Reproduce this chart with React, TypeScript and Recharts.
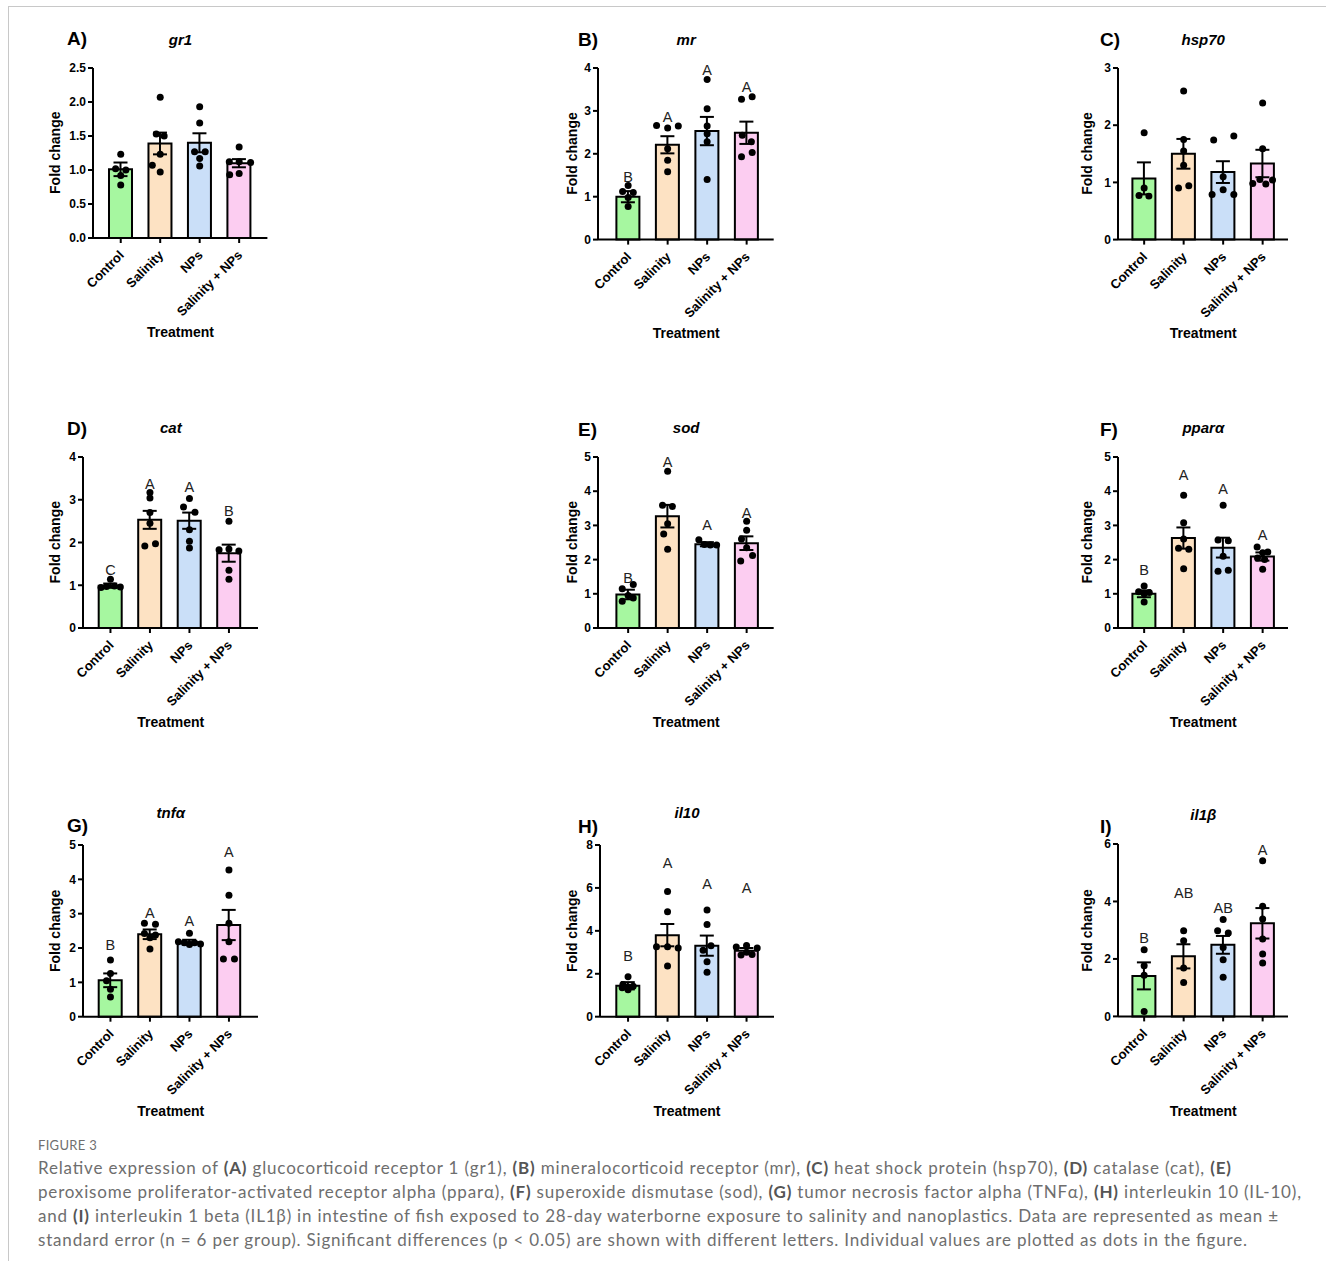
import React from 'react';
import { ComposedChart, Bar, Cell, ErrorBar, Scatter, XAxis, YAxis } from 'recharts';

const groups = ['Control', 'Salinity', 'NPs', 'Salinity + NPs'];
const groupColors = ['#a6f7a0', '#fde2c3', '#cadff8', '#fccdf1'];

// A) gr1
const gr1Mean = [1.01, 1.39, 1.40, 1.10];
const gr1Sem = [0.10, 0.16, 0.14, 0.06];
const gr1Values = [[1.23, 1.02, 1.0, 0.92, 0.78], [2.07, 1.53, 1.5, 1.23, 1.07, 0.97], [1.93, 1.69, 1.27, 1.27, 1.17, 1.06], [1.34, 1.12, 1.12, 1.11, 0.95, 0.93]];
const gr1Jitter = [[0, -0.13, 0.13, 0, 0], [0, -0.1, 0.1, 0, -0.2, 0], [0, 0, -0.13, 0.14, 0, 0], [0, -0.25, 0, 0.29, 0, -0.24]];
const gr1Letters: string[] = [];
const gr1LetterY: number[] = [];

// B) mr
const mrMean = [1.0, 2.21, 2.53, 2.49];
const mrSem = [0.13, 0.2, 0.33, 0.26];
const mrValues = [[1.26, 1.12, 1.1, 0.98, 0.77], [2.66, 2.6, 2.65, 2.12, 1.85, 1.58], [3.73, 3.05, 2.65, 2.47, 2.28, 1.4], [3.27, 3.33, 2.43, 2.28, 1.93, 2.03]];
const mrJitter = [[0, -0.14, 0.13, 0, 0], [-0.28, 0, 0.27, 0, 0, 0], [0, 0, 0, 0, 0, 0], [-0.13, 0.14, -0.11, 0.12, -0.13, 0.14]];
const mrLetters = ['B', 'A', 'A', 'A'];
const mrLetterY = [1.45, 2.85, 3.96, 3.55];

// C) hsp70
const hspMean = [1.07, 1.5, 1.18, 1.33];
const hspSem = [0.28, 0.26, 0.19, 0.24];
const hspValues = [[1.87, 0.9, 0.77, 0.76], [2.6, 1.75, 1.55, 1.3, 0.9, 0.94], [1.74, 1.81, 1.1, 0.87, 0.79, 0.79], [2.39, 1.59, 0.98, 1.05, 0.97, 1.04]];
const hspJitter = [[0, 0, -0.13, 0.12], [0, 0, 0, 0, -0.13, 0.13], [-0.24, 0.27, 0, 0, -0.28, 0.27], [0, 0, -0.25, -0.07, 0.08, 0.25]];
const hspLetters: string[] = [];
const hspLetterY: number[] = [];

// D) cat
const catMean = [0.99, 2.53, 2.51, 1.75];
const catSem = [0.05, 0.21, 0.19, 0.2];
const catValues = [[1.14, 0.95, 0.97, 0.98, 0.96], [3.17, 3.04, 2.7, 2.45, 1.92, 1.97], [3.03, 2.83, 2.71, 2.3, 2.03, 1.87], [2.5, 1.83, 1.85, 1.8, 1.35, 1.14]];
const catJitter = [[0, -0.24, -0.1, 0.1, 0.25], [0, 0, 0, 0, -0.13, 0.14], [0, -0.15, 0.14, 0, 0, 0], [0, -0.25, 0, 0.25, 0, 0]];
const catLetters = ['C', 'A', 'A', 'B'];
const catLetterY = [1.35, 3.38, 3.29, 2.73];

// E) sod
const sodMean = [0.98, 3.27, 2.45, 2.48];
const sodSem = [0.14, 0.33, 0.06, 0.2];
const sodValues = [[1.27, 1.15, 0.95, 0.88, 0.78], [4.58, 3.59, 3.55, 3.05, 2.75, 2.3], [2.58, 2.44, 2.43, 2.43], [3.12, 2.86, 2.6, 2.35, 1.96, 2.12]];
const sodJitter = [[0.13, -0.15, 0, 0.13, -0.15], [0, -0.13, 0.12, 0, -0.1, 0], [-0.21, -0.07, 0.08, 0.24], [0, 0, -0.13, 0, -0.15, 0.15]];
const sodLetters = ['B', 'A', 'A', 'A'];
const sodLetterY = [1.45, 4.85, 3.0, 3.35];

// F) pparα
const pparMean = [1.0, 2.63, 2.35, 2.09];
const pparSem = [0.1, 0.31, 0.29, 0.12];
const pparValues = [[1.23, 1.06, 1.04, 1.0, 0.76], [3.88, 3.08, 2.6, 2.33, 2.3, 1.73], [3.59, 2.57, 2.55, 2.1, 1.66, 1.69], [2.37, 2.22, 2.2, 2.05, 2.0, 1.72]];
const pparJitter = [[0, -0.14, 0.13, 0, 0], [0, 0, 0, -0.13, 0.13, 0], [0, -0.13, 0.13, 0, -0.13, 0.13], [-0.14, 0.13, 0, -0.13, 0.05, 0]];
const pparLetters = ['B', 'A', 'A', 'A'];
const pparLetterY = [1.69, 4.46, 4.06, 2.71];

// G) tnfα
const tnfMean = [1.06, 2.4, 2.17, 2.67];
const tnfSem = [0.2, 0.14, 0.07, 0.44];
const tnfValues = [[1.65, 1.26, 1.05, 0.8, 0.57], [2.72, 2.69, 2.42, 2.38, 2.3, 1.97], [2.43, 2.18, 2.15, 2.15, 2.12, 2.1], [4.27, 3.54, 2.72, 2.18, 1.68, 1.68]];
const tnfJitter = [[0, 0, -0.1, 0, 0], [-0.14, 0.14, -0.14, 0.14, 0, 0], [0, -0.28, -0.13, 0.13, 0.28, 0], [0, 0, 0, 0, -0.14, 0.14]];
const tnfLetters = ['B', 'A', 'A', 'A'];
const tnfLetterY = [2.09, 3.02, 2.79, 4.8];

// H) il10
const il10Mean = [1.44, 3.8, 3.31, 3.07];
const il10Sem = [0.17, 0.52, 0.47, 0.13];
const il10Values = [[1.86, 1.5, 1.42, 1.38, 1.35, 1.25], [5.83, 4.89, 3.26, 3.26, 3.2, 2.36], [4.97, 4.3, 3.3, 3.1, 2.56, 2.07], [3.25, 3.32, 3.2, 2.88, 2.9, 3.0]];
const il10Jitter = [[0, -0.13, 0.13, 0, -0.15, 0], [0, 0, -0.28, 0, 0.27, 0], [0, 0, 0.1, -0.1, 0, 0], [-0.26, 0, 0.27, -0.14, 0.14, 0]];
const il10Letters = ['B', 'A', 'A', 'A'];
const il10LetterY = [2.83, 7.17, 6.19, 6.0];

// I) il1β
const il1bMean = [1.41, 2.09, 2.49, 3.24];
const il1bSem = [0.47, 0.42, 0.31, 0.53];
const il1bValues = [[2.32, 1.76, 1.43, 0.17], [2.98, 2.63, 1.68, 1.18], [3.37, 2.98, 2.9, 2.4, 1.97, 1.36], [5.42, 3.83, 3.39, 2.69, 2.17, 1.86]];
const il1bJitter = [[0, 0, 0, 0], [0, 0, 0, 0], [0, -0.14, 0.13, 0, 0, 0], [0, 0, 0, 0, 0, 0]];
const il1bLetters = ['B', 'AB', 'AB', 'A'];
const il1bLetterY = [2.74, 4.31, 3.78, 5.8];

const FONT = '"Liberation Sans", Arial, Helvetica, sans-serif';

const panels = [
  { id: 'A)', gene: 'gr1', ax: 93.3, top: 67.7, bottom: 237.7, right: 267.7, pl: 8, pr: 8.5, yMax: 2.5, ticks: [0, 0.5, 1, 1.5, 2, 2.5], dec: 1, labelX: 67, labelY: 45, geneY: 45, mean: gr1Mean, sem: gr1Sem, values: gr1Values, jitter: gr1Jitter, letters: gr1Letters, letterY: gr1LetterY, ylabX: 56 },
  { id: 'B)', gene: 'mr', ax: 598.3, top: 67.7, bottom: 239.3, right: 774, pl: 10.4, pr: 7.3, yMax: 4, ticks: [0, 1, 2, 3, 4], dec: 0, labelX: 578, labelY: 46, geneY: 45, mean: mrMean, sem: mrSem, values: mrValues, jitter: mrJitter, letters: mrLetters, letterY: mrLetterY, ylabX: 573 },
  { id: 'C)', gene: 'hsp70', ax: 1118.3, top: 67.7, bottom: 239.3, right: 1288.3, pl: 6.4, pr: 5.6, yMax: 3, ticks: [0, 1, 2, 3], dec: 0, labelX: 1100, labelY: 46, geneY: 45, mean: hspMean, sem: hspSem, values: hspValues, jitter: hspJitter, letters: hspLetters, letterY: hspLetterY, ylabX: 1088 },
  { id: 'D)', gene: 'cat', ax: 83.3, top: 456.7, bottom: 627.7, right: 258.3, pl: 7.7, pr: 9.3, yMax: 4, ticks: [0, 1, 2, 3, 4], dec: 0, labelX: 67, labelY: 435, geneY: 433, mean: catMean, sem: catSem, values: catValues, jitter: catJitter, letters: catLetters, letterY: catLetterY, ylabX: 56 },
  { id: 'E)', gene: 'sod', ax: 598.3, top: 456.7, bottom: 627.7, right: 774, pl: 10.4, pr: 7.3, yMax: 5, ticks: [0, 1, 2, 3, 4, 5], dec: 0, labelX: 578, labelY: 436, geneY: 433, mean: sodMean, sem: sodSem, values: sodValues, jitter: sodJitter, letters: sodLetters, letterY: sodLetterY, ylabX: 573 },
  { id: 'F)', gene: 'pparα', ax: 1118.3, top: 456.7, bottom: 627.7, right: 1288.3, pl: 6.4, pr: 5.6, yMax: 5, ticks: [0, 1, 2, 3, 4, 5], dec: 0, labelX: 1100, labelY: 436, geneY: 433, mean: pparMean, sem: pparSem, values: pparValues, jitter: pparJitter, letters: pparLetters, letterY: pparLetterY, ylabX: 1088 },
  { id: 'G)', gene: 'tnfα', ax: 83.3, top: 845, bottom: 1016.7, right: 258.3, pl: 7.7, pr: 9.3, yMax: 5, ticks: [0, 1, 2, 3, 4, 5], dec: 0, labelX: 67, labelY: 832, geneY: 818, mean: tnfMean, sem: tnfSem, values: tnfValues, jitter: tnfJitter, letters: tnfLetters, letterY: tnfLetterY, ylabX: 56 },
  { id: 'H)', gene: 'il10', ax: 600, top: 845, bottom: 1016.7, right: 774, pl: 8.3, pr: 7.7, yMax: 8, ticks: [0, 2, 4, 6, 8], dec: 0, labelX: 578, labelY: 833, geneY: 818, mean: il10Mean, sem: il10Sem, values: il10Values, jitter: il10Jitter, letters: il10Letters, letterY: il10LetterY, ylabX: 573 },
  { id: 'I)', gene: 'il1β', ax: 1118.3, top: 844.3, bottom: 1016.7, right: 1288.3, pl: 6.4, pr: 5.6, yMax: 6, ticks: [0, 2, 4, 6], dec: 0, labelX: 1100, labelY: 833, geneY: 820, mean: il1bMean, sem: il1bSem, values: il1bValues, jitter: il1bJitter, letters: il1bLetters, letterY: il1bLetterY, ylabX: 1088 },
];

const LEFT_PAD = 60;
const TOP_PAD = 20;
const BOTTOM_PAD = 110;
const RIGHT_PAD = 10;

const RotTick = (props: any) => {
  const { x, y, payload } = props;
  const tx = x + 4;
  const ty = y + 11;
  return (
    <text x={tx} y={ty} transform={`rotate(-45, ${tx}, ${ty})`} textAnchor="end" fontSize={13} fontWeight="bold" fill="#000" fontFamily={FONT}>
      {payload.value}
    </text>
  );
};

const DotShape = (props: any) => <circle cx={props.cx} cy={props.cy} r={3.5} fill="#000" />;

const LetterShape = (props: any) => (
  <text x={props.cx} y={props.cy} textAnchor="middle" dominantBaseline="central" fontSize={14.5} fill="#222" fontFamily={FONT}>
    {props.payload ? props.payload.t : ''}
  </text>
);

function Panel({ c }: { c: any }) {
  const plotW = c.right - c.ax;
  const plotH = c.bottom - c.top;
  const width = LEFT_PAD + plotW + RIGHT_PAD;
  const height = TOP_PAD + plotH + BOTTOM_PAD;
  const barData = groups.map((g, i) => ({ group: g, mean: c.mean[i], sem: c.sem[i] }));
  const dots = c.values.flatMap((arr: number[], i: number) => arr.map((v: number, j: number) => ({ x: i + c.jitter[i][j], y: v })));
  const letters = c.letters.map((t: string, i: number) => ({ x: i, y: c.letterY[i], t }));
  return (
    <div style={{ position: 'absolute', left: c.ax - LEFT_PAD, top: c.top - TOP_PAD, fontFamily: FONT }}>
      <ComposedChart width={width} height={height} data={barData} margin={{ top: TOP_PAD, right: RIGHT_PAD, bottom: 10, left: 0 }}>
        <XAxis
          xAxisId="c"
          dataKey="group"
          type="category"
          padding={{ left: c.pl, right: c.pr }}
          height={BOTTOM_PAD - 10}
          tick={<RotTick />}
          tickSize={5}
          interval={0}
          axisLine={{ stroke: '#000', strokeWidth: 2 }}
          tickLine={{ stroke: '#000', strokeWidth: 2 }}
        />
        <XAxis xAxisId="n" type="number" dataKey="x" domain={[-0.5, 3.5]} padding={{ left: c.pl, right: c.pr }} hide />
        <YAxis
          type="number"
          domain={[0, c.yMax]}
          ticks={c.ticks}
          width={LEFT_PAD}
          interval={0}
          tickSize={5}
          tickFormatter={(v: number) => v.toFixed(c.dec)}
          tick={{ fontSize: 12, fontWeight: 'bold', fill: '#000', fontFamily: FONT }}
          axisLine={{ stroke: '#000', strokeWidth: 2 }}
          tickLine={{ stroke: '#000', strokeWidth: 2 }}
        />
        <Bar xAxisId="c" dataKey="mean" barSize={23} stroke="#000" strokeWidth={2} isAnimationActive={false}>
          {barData.map((d, i) => (
            <Cell key={i} fill={groupColors[i]} />
          ))}
          <ErrorBar dataKey="sem" width={7} strokeWidth={2} stroke="#000" />
        </Bar>
        <Scatter xAxisId="n" data={dots} dataKey="y" shape={DotShape} isAnimationActive={false} />
        <Scatter xAxisId="n" data={letters} dataKey="y" shape={LetterShape} isAnimationActive={false} />
      </ComposedChart>
    </div>
  );
}

const captionLines: { t: string; b?: boolean }[][] = [
  [
    { t: 'Relative expression of ' }, { t: '(A)', b: true }, { t: ' glucocorticoid receptor 1 (gr1), ' }, { t: '(B)', b: true },
    { t: ' mineralocorticoid receptor (mr), ' }, { t: '(C)', b: true }, { t: ' heat shock protein (hsp70), ' }, { t: '(D)', b: true },
    { t: ' catalase (cat), ' }, { t: '(E)', b: true },
  ],
  [
    { t: 'peroxisome proliferator-activated receptor alpha (pparα), ' }, { t: '(F)', b: true }, { t: ' superoxide dismutase (sod), ' },
    { t: '(G)', b: true }, { t: ' tumor necrosis factor alpha (TNFα), ' }, { t: '(H)', b: true }, { t: ' interleukin 10 (IL-10),' },
  ],
  [
    { t: 'and ' }, { t: '(I)', b: true },
    { t: ' interleukin 1 beta (IL1β) in intestine of fish exposed to 28-day waterborne exposure to salinity and nanoplastics. Data are represented as mean ±' },
  ],
  [{ t: 'standard error (n = 6 per group). Significant differences (p < 0.05) are shown with different letters. Individual values are plotted as dots in the figure.' }],
];
const captionWidths = [1193, 1263, 1240, 1209];

export default function App() {
  return (
    <div style={{ position: 'absolute', left: 0, top: 0, width: 1331, height: 1261, background: '#fff', overflow: 'hidden' }}>
      <div style={{ position: 'absolute', left: 8, top: 6, width: 1318, height: 1, background: '#c8c8c8' }} />
      <div style={{ position: 'absolute', left: 8, top: 6, width: 1, height: 1255, background: '#c8c8c8' }} />
      {panels.map((c) => (
        <Panel key={c.id} c={c} />
      ))}
      <svg width={1331} height={1261} style={{ position: 'absolute', left: 0, top: 0, pointerEvents: 'none' }}>
        {panels.map((c) => {
          const cx = (c.ax + c.right) / 2;
          const cy = (c.top + c.bottom) / 2;
          return (
            <g key={c.id} fontFamily={FONT} fill="#000">
              <text x={c.labelX} y={c.labelY} fontSize={19} fontWeight="bold">{c.id}</text>
              <text x={cx} y={c.geneY} fontSize={15} fontWeight="bold" fontStyle="italic" textAnchor="middle">{c.gene}</text>
              <text x={c.ylabX + 4} y={cy} fontSize={14} fontWeight="bold" textAnchor="middle" transform={`rotate(-90, ${c.ylabX + 4}, ${cy})`}>Fold change</text>
              <text x={cx} y={c.bottom + 99} fontSize={14} fontWeight="bold" textAnchor="middle">Treatment</text>
            </g>
          );
        })}
        <text x={38} y={1150} fontSize={13} fill="#6f6f6f" fontFamily="Lato, 'Open Sans', sans-serif" letterSpacing={0.3}>FIGURE 3</text>
        {captionLines.map((line, li) => (
          <text key={li} x={38} y={1174 + li * 24} fontSize={17} fill="#6e6e6e" fontFamily="Lato, 'Open Sans', sans-serif" textLength={captionWidths[li]} lengthAdjust="spacing" style={{ whiteSpace: 'pre' }}>
            {line.map((s, si) => (
              <tspan key={si} fontWeight={s.b ? 'bold' : 'normal'} fill={s.b ? '#555' : '#6e6e6e'}>{s.t}</tspan>
            ))}
          </text>
        ))}
      </svg>
    </div>
  );
}
